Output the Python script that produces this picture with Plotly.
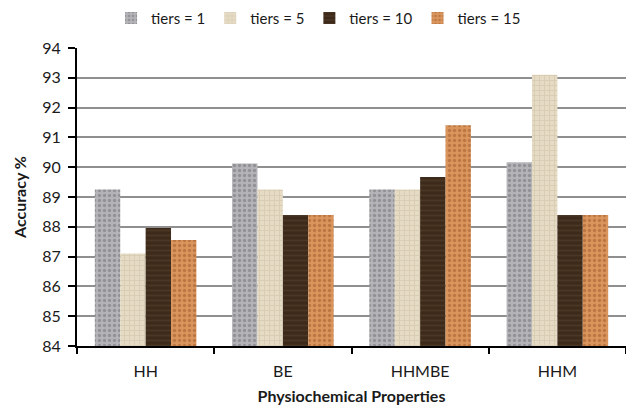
import plotly.graph_objects as go

# Accuracy (%) per physiochemical property set for each tier count
categories = ["HH", "BE", "HHMBE", "HHM"]
tiers_1 = [89.25, 90.12, 89.25, 90.17]
tiers_5 = [87.1, 89.25, 89.25, 93.1]
tiers_10 = [87.96, 88.4, 89.67, 88.4]
tiers_15 = [87.56, 88.4, 91.41, 88.4]

series = [
    ("tiers = 1", tiers_1, "#b4b4b8", "#6e6e74", "."),
    ("tiers = 5", tiers_5, "#e6dcc6", "#cbbf9f", "+"),
    ("tiers = 10", tiers_10, "#3d2a1a", "#5a4330", "-"),
    ("tiers = 15", tiers_15, "#d9955c", "#9c5a2c", "."),
]

font_family = "Lato, 'Open Sans', sans-serif"

fig = go.Figure()
for name, vals, bg, fg, shape in series:
    fig.add_trace(go.Bar(
        name=name,
        x=categories,
        y=vals,
        marker=dict(
            color=bg,
            line=dict(width=0),
            pattern=dict(shape=shape, fgcolor=fg, bgcolor=bg,
                         fillmode="overlay", size=5, solidity=0.35),
        ),
    ))

fig.update_layout(
    width=626, height=410,
    margin=dict(l=77, r=0, t=48, b=64),
    plot_bgcolor="white", paper_bgcolor="white",
    barmode="group", bargap=0.26, bargroupgap=0,
    font=dict(family=font_family, size=15, color="#1a1a1a"),
    showlegend=True,
    legend=dict(orientation="h", x=0.44, xanchor="center", y=1.1, yanchor="middle",
                font=dict(size=15), itemwidth=30, traceorder="normal"),
)
fig.update_yaxes(
    range=[84, 94], dtick=1, showgrid=True, gridcolor="#8f8f8f", gridwidth=2,
    showline=True, linecolor="black", linewidth=2,
    ticks="outside", ticklen=7, tickwidth=2, tickcolor="black",
    tickfont=dict(size=16), ticklabelstandoff=4,
    title=dict(text="<b>Accuracy %</b>", font=dict(size=16), standoff=12),
    zeroline=False,
)
fig.update_xaxes(
    showline=True, linecolor="black", linewidth=2,
    ticks="outside", tickson="boundaries", ticklen=6, tickwidth=2, tickcolor="black",
    tickfont=dict(size=16), ticklabelstandoff=10,
    title=dict(text="<b>Physiochemical Properties</b>", font=dict(size=16), standoff=12),
    showgrid=False,
)

fig.write_html("out.html")
